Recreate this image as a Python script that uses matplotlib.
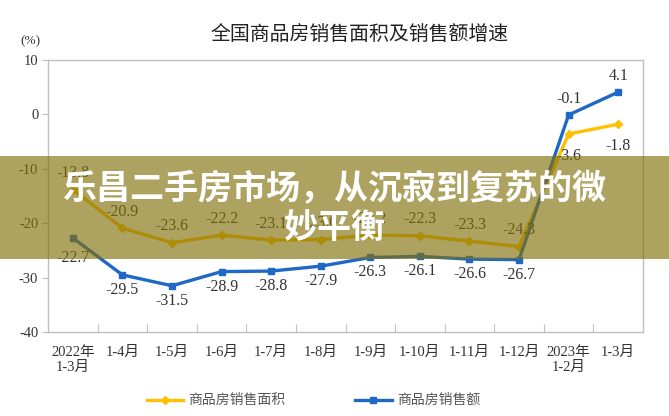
import matplotlib
matplotlib.use("Agg")
import matplotlib.pyplot as plt
from matplotlib.patches import Rectangle
from matplotlib.lines import Line2D

categories = ["2022年\n1-3月", "1-4月", "1-5月", "1-6月", "1-7月", "1-8月", "1-9月",
              "1-10月", "1-11月", "1-12月", "2023年\n1-2月", "1-3月"]
area_growth = [-13.8, -20.9, -23.6, -22.2, -23.1, -23.0, -22.2, -22.3, -23.3, -24.3, -3.6, -1.8]
sales_growth = [-22.7, -29.5, -31.5, -28.9, -28.8, -27.9, -26.3, -26.1, -26.6, -26.7, -0.1, 4.1]
yticks = [-40, -30, -20, -10, 0, 10]
title = "全国商品房销售面积及销售额增速"
legend_labels = ["商品房销售面积", "商品房销售额"]
banner_text = "乐昌二手房市场，从沉寂到复苏的微\n妙平衡"

SERIF = ["Liberation Serif", "Noto Sans CJK SC"]
CJK = ["Noto Sans CJK SC", "DejaVu Sans"]
YELLOW = "#FFC000"
BLUE = "#1F68C6"
TXT = "#333333"
W, H = 669, 416

fig = plt.figure(figsize=(6.69, 4.16), dpi=100)
ax = fig.add_axes([48/W, 84/H, (643-48)/W, (332-60)/H])

x = list(range(len(categories)))
ax.plot(x, area_growth, color=YELLOW, lw=2.4, marker="D", ms=4.5, zorder=3)
ax.plot(x, sales_growth, color=BLUE, lw=2.4, marker="s", ms=4.5, zorder=3)

ax.set_xlim(-0.5, len(categories) - 0.5)
ax.set_ylim(-40, 10)
ax.set_yticks(yticks)
ax.set_yticklabels([str(v) for v in yticks], family=SERIF, fontsize=10.5, color=TXT)
ax.set_xticks([i + 0.5 for i in range(len(categories) - 1)])
ax.set_xticklabels([])
ax.tick_params(axis="x", direction="in", length=6, color="#BFBFBF")
ax.tick_params(axis="y", direction="out", length=4, color="#BFBFBF", pad=3)
for i, c in enumerate(categories):
    ax.text(i, -42.5, c, ha="center", va="top", family=SERIF, fontsize=10.5,
            color=TXT, linespacing=1.25)
for s in ax.spines.values():
    s.set_color("#BFBFBF")
    s.set_linewidth(1.0)

# data labels
LBL = dict(family=SERIF, fontsize=11.5, color=TXT, ha="center")
for i, v in enumerate(area_growth):
    if i >= 10:
        ax.annotate(f"{v}", (i, v), xytext=(0, -10), textcoords="offset points",
                    va="top", **LBL)
    else:
        ax.annotate(f"{v}", (i, v), xytext=(0, 6), textcoords="offset points",
                    va="bottom", **LBL)
for i, v in enumerate(sales_growth):
    if i >= 10:
        ax.annotate(f"{v}", (i, v), xytext=(0, 6), textcoords="offset points",
                    va="bottom", **LBL)
    elif i == 0:
        ax.annotate(f"{v}", (i, v), xytext=(0, -9), textcoords="offset points",
                    va="top", **LBL)
    else:
        ax.annotate(f"{v}", (i, v), xytext=(0, -5), textcoords="offset points",
                    va="top", **LBL)

fig.text(360/W, 1 - 34/H, title, ha="center", va="center", family=CJK,
         fontsize=14.3, color="#222222", weight="medium")
fig.text(30/W, 1 - 41/H, "(%)", ha="center", va="center", family=SERIF,
         fontsize=9.5, color=TXT)

# legend (manual placement)
ly = 1 - 400/H
for (x0, x1, tx), col, mk, lab in [((147, 183, 188), YELLOW, "D", legend_labels[0]),
                                   ((355, 392, 397), BLUE, "s", legend_labels[1])]:
    fig.add_artist(Line2D([x0/W, x1/W], [ly, ly], color=col, lw=2.4,
                          transform=fig.transFigure))
    fig.add_artist(Line2D([(x0 + x1)/2/W], [ly], color=col, marker=mk, ms=4,
                          transform=fig.transFigure))
    fig.text(tx/W, ly, lab, ha="left", va="center", family=CJK, fontsize=10,
             color="#555555")

# banner overlay
fig.patches.append(Rectangle((0, 1 - 259/H), 1, 103/H, transform=fig.transFigure,
                             facecolor=(130/255, 112/255, 10/255), alpha=0.65,
                             edgecolor="none", zorder=5))
fig.text(0.5, 1 - 208/H, banner_text, ha="center", va="center", family=CJK,
         fontsize=24.5, weight="bold", color="white", zorder=6, linespacing=1.15)

fig.savefig("out.png", dpi=100)
